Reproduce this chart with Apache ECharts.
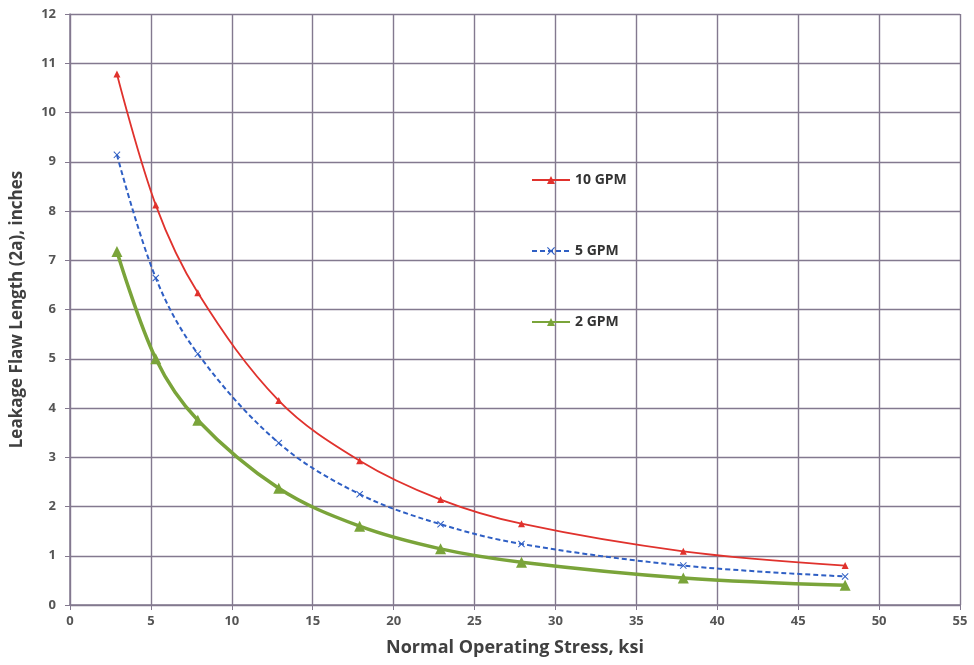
<!DOCTYPE html>
<html>
<head>
<meta charset="utf-8">
<script src="https://cdn.jsdelivr.net/npm/echarts@6/dist/echarts.min.js"></script>
<style>
  html, body { margin: 0; padding: 0; background: #fff; }
  #chart { width: 974px; height: 665px; }
</style>
</head>
<body>
<div id="chart"></div>
<script>
// stress values (ksi) where each curve was evaluated
const stress = [2.9, 5.3, 7.9, 12.9, 17.9, 22.9, 27.9, 37.9, 47.9];

// leakage flaw length (inches) per leak rate
const gpm10 = [10.78, 8.12, 6.34, 4.15, 2.93, 2.14, 1.65, 1.09, 0.8];
const gpm5 = [9.14, 6.64, 5.1, 3.29, 2.25, 1.64, 1.24, 0.8, 0.58];
const gpm2 = [7.18, 5.0, 3.75, 2.37, 1.6, 1.14, 0.87, 0.55, 0.4];

const seriesNames = ["10 GPM", "5 GPM", "2 GPM"];

const gridColor = "#83798f";
const labelColor = "#404040";
const font = "'Open Sans', 'Liberation Sans', sans-serif";

// small filled cross, like excel's "x" marker
const crossPath =
  "path://M0,1L1,0L5,4L9,0L10,1L6,5L10,9L9,10L5,6L1,10L0,9L4,5Z";

function pairs(ys) {
  return ys.map((y, i) => [stress[i], y]);
}

const chart = echarts.init(document.getElementById("chart"), null, {
  renderer: "canvas",
});

chart.setOption({
  animation: false,
  grid: { left: 70, right: 14, top: 14, bottom: 60 },
  legend: {
    orient: "vertical",
    left: 526,
    top: 168,
    itemGap: 57,
    itemWidth: 38,
    itemHeight: 10,
    data: seriesNames,
    textStyle: {
      fontFamily: font,
      fontWeight: "bold",
      fontSize: 14,
      color: "#333",
    },
  },
  xAxis: {
    type: "value",
    min: 0,
    max: 55,
    interval: 5,
    name: "Normal Operating Stress, ksi",
    nameLocation: "middle",
    nameGap: 34,
    nameTextStyle: {
      fontFamily: font,
      fontWeight: "bold",
      fontSize: 18,
      color: labelColor,
    },
    axisLine: { lineStyle: { color: gridColor, width: 1.5 } },
    axisTick: { show: true, length: 5, lineStyle: { color: gridColor } },
    axisLabel: {
      fontFamily: font,
      fontWeight: "bold",
      fontSize: 13,
      color: "#555",
      margin: 10,
    },
    splitLine: { show: true, lineStyle: { color: gridColor, width: 1.4 } },
  },
  yAxis: {
    type: "value",
    min: 0,
    max: 12,
    interval: 1,
    name: "Leakage Flaw Length (2a), inches",
    nameLocation: "middle",
    nameGap: 44,
    nameTextStyle: {
      fontFamily: font,
      fontWeight: "bold",
      fontSize: 17,
      color: labelColor,
    },
    axisLine: { show: true, lineStyle: { color: gridColor, width: 1.5 } },
    axisTick: { show: true, length: 5, lineStyle: { color: gridColor } },
    axisLabel: {
      fontFamily: font,
      fontWeight: "bold",
      fontSize: 13,
      color: "#555",
      margin: 14,
    },
    splitLine: { show: true, lineStyle: { color: gridColor, width: 1.4 } },
  },
  series: [
    {
      name: seriesNames[0],
      type: "line",
      data: pairs(gpm10),
      smooth: 0.35,
      symbol: "triangle",
      symbolSize: 7,
      color: "#e0322d",
      lineStyle: { width: 1.8 },
      z: 3,
    },
    {
      name: seriesNames[1],
      type: "line",
      data: pairs(gpm5),
      smooth: 0.35,
      symbol: crossPath,
      symbolSize: 7,
      color: "#2f5fc4",
      lineStyle: { width: 2, type: [5, 3] },
      z: 3,
    },
    {
      name: seriesNames[2],
      type: "line",
      data: pairs(gpm2),
      smooth: 0.35,
      symbol: "triangle",
      symbolSize: 11,
      color: "#7aa43a",
      lineStyle: { width: 3.5 },
      z: 3,
    },
  ],
});
</script>
</body>
</html>
